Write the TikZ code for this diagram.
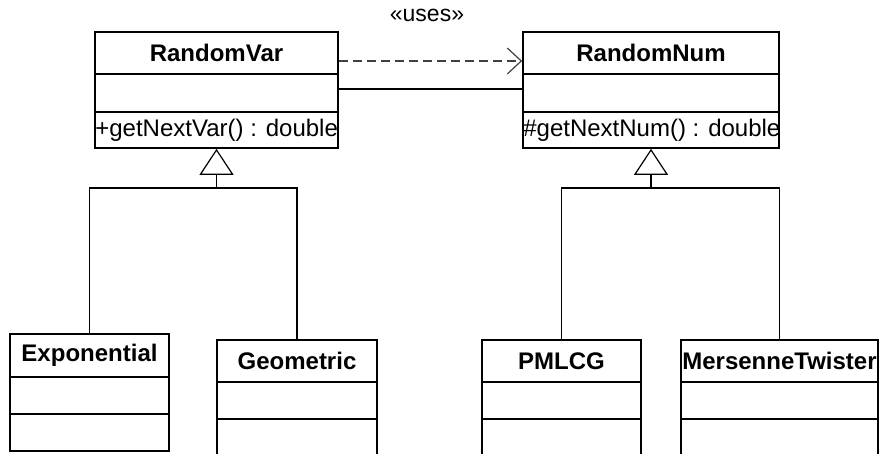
\documentclass[tikz,border=0pt]{standalone}
\usepackage{fontspec}
\setmainfont{Liberation Sans}
\usetikzlibrary{arrows.meta,positioning}
\begin{document}
\begin{tikzpicture}[x=1pt,y=-1pt,
  compart/.style={draw=black, line width=1.7pt, inner sep=0pt, font=\fontsize{24}{28}\selectfont\bfseries},
  optext/.style={anchor=west, inner sep=1pt, font=\fontsize{24}{28}\selectfont},
  conn/.style={draw=black, line width=1.2pt},
  inherit/.style={conn, -{Triangle[open, length=26pt, width=34pt]}, line join=miter},
  uses/.style={draw=black!75, line width=1.2pt, dash pattern=on 9pt off 5pt, -{Straight Barb[length=14pt, width=26pt]}}
]
\clip (0,0) rectangle (879,454);
\useasboundingbox (0,0) rectangle (879,454);
% RandomVar
\node[compart, minimum width=243pt, minimum height=42pt] (rvname) at (216.5,53) {RandomVar};
\node[compart, minimum width=243pt, minimum height=38pt] (rvattr) at (216.5,93) {};
\node[compart, minimum width=243pt, minimum height=36pt] (rvops) at (216.5,130) {};
\node[optext] (rvopt) at (rvops.west) {+getNextVar() : double};
% RandomNum
\node[compart, minimum width=256pt, minimum height=42pt] (rnname) at (651,53) {RandomNum};
\node[compart, minimum width=256pt, minimum height=38pt] (rnattr) at (651,93) {};
\node[compart, minimum width=256pt, minimum height=36pt] (rnops) at (651,130) {};
\node[optext] (rnopt) at (rnops.west) {\#getNextNum() : double};
% uses
\node[inner sep=0pt, font=\fontsize{23}{27}\selectfont] (useslbl) at (427,15) {«uses»};
\draw[uses] ([yshift=-8pt]rvname.east) -- ([yshift=-8pt]rnname.west);
\draw[conn] ([yshift=4pt]rvattr.east) -- ([yshift=4pt]rnattr.west);
% Exponential
\node[compart, minimum width=159pt, minimum height=43pt] (expname) at (89.5,355.5) {Exponential};
\node[compart, minimum width=159pt, minimum height=37pt] (expattr) at (89.5,395.5) {};
\node[compart, minimum width=159pt, minimum height=37pt] (expops) at (89.5,432.5) {};
% Geometric
\node[compart, minimum width=160pt, minimum height=42pt] (geoname) at (297,361) {Geometric};
\node[compart, minimum width=160pt, minimum height=37pt] (geoattr) at (297,400.5) {};
\node[compart, minimum width=160pt, minimum height=40pt] (geoops) at (297,439) {};
% PMLCG
\node[compart, minimum width=159pt, minimum height=42pt] (pmname) at (561.5,361) {PMLCG};
\node[compart, minimum width=159pt, minimum height=37pt] (pmattr) at (561.5,400.5) {};
\node[compart, minimum width=159pt, minimum height=40pt] (pmops) at (561.5,439) {};
% MersenneTwister
\node[compart, minimum width=197pt, minimum height=42pt] (mtname) at (779.5,361) {MersenneTwister};
\node[compart, minimum width=197pt, minimum height=37pt] (mtattr) at (779.5,400.5) {};
\node[compart, minimum width=197pt, minimum height=40pt] (mtops) at (779.5,439) {};
% inheritance
\coordinate (rvj) at (216.5,188);
\coordinate (rnj) at (651,188);
\draw[conn] (expname.north) |- (rvj);
\draw[conn] (geoname.north) |- (rvj);
\draw[inherit] (rvj) -- (rvops.south);
\draw[conn] (pmname.north) |- (rnj);
\draw[conn] (mtname.north) |- (rnj);
\draw[inherit] (rnj) -- (rnops.south);
\end{tikzpicture}
\end{document}
